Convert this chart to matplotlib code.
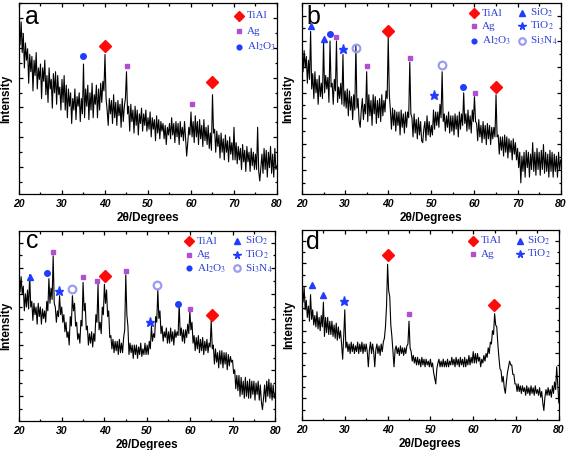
import numpy as np
import matplotlib
matplotlib.use("Agg")
import matplotlib.pyplot as plt

plt.rcParams["mathtext.fontset"] = "stix"

# 2theta grid (degrees), 0.25 deg step
two_theta = np.linspace(20, 80, 241)

# intensities (arbitrary units, 0..100 = axis height), one row = 5 degrees
int_a = [87, 78, 90, 74, 84, 66, 79, 70, 76, 58, 73, 64, 72, 54, 70, 62, 74, 55, 66, 60,
         68, 50, 66, 59, 70, 52, 62, 48, 66, 55, 60, 45, 63, 53, 64, 47, 62, 52, 56, 44,
         60, 48, 62, 44, 57, 40, 55, 46, 53, 37, 50, 44, 55, 39, 51, 46, 53, 38, 50, 42,
         68, 40, 55, 46, 57, 39, 53, 44, 58, 40, 52, 47, 57, 40, 55, 44, 58, 48, 59, 54,
         73, 50, 44, 36, 50, 42, 49, 37, 52, 40, 48, 36, 49, 41, 47, 35, 50, 38, 46, 50,
         64, 42, 46, 33, 47, 38, 44, 32, 46, 36, 44, 31, 42, 37, 45, 33, 42, 36, 44, 33,
         40, 34, 43, 30, 40, 34, 39, 28, 41, 32, 39, 29, 38, 33, 37, 29, 36, 26, 35, 31,
         37, 29, 40, 31, 37, 27, 38, 30, 37, 26, 38, 30, 35, 28, 38, 29, 20, 27, 35, 31,
         43, 30, 38, 27, 41, 30, 38, 26, 39, 29, 36, 25, 39, 28, 35, 26, 36, 24, 32, 23,
         52, 32, 34, 22, 33, 25, 31, 19, 32, 22, 29, 18, 31, 22, 28, 17, 30, 21, 27, 18,
         35, 18, 27, 16, 25, 18, 24, 13, 26, 17, 23, 12, 25, 17, 22, 12, 24, 15, 22, 13,
         21, 13, 35, 12, 7, 14, 21, 11, 24, 13, 23, 9, 22, 14, 25, 11, 21, 9, 24, 13,
         15]

int_b = [79, 64, 75, 66, 72, 58, 70, 60, 85, 55, 63, 50, 64, 53, 60, 47, 62, 51, 58, 50,
         80, 53, 62, 55, 61, 48, 80, 56, 58, 47, 60, 54, 80, 48, 56, 50, 58, 47, 73, 46,
         54, 45, 55, 41, 54, 44, 51, 39, 52, 44, 78, 45, 50, 38, 35, 44, 50, 39, 47, 42,
         64, 38, 52, 41, 49, 36, 52, 42, 51, 37, 49, 40, 50, 38, 52, 41, 49, 43, 54, 50,
         82, 52, 44, 34, 45, 36, 44, 33, 43, 36, 43, 31, 44, 35, 42, 32, 43, 35, 43, 40,
         69, 42, 40, 30, 42, 32, 39, 29, 40, 31, 38, 28, 27, 34, 38, 28, 41, 31, 38, 30,
         36, 31, 44, 34, 43, 36, 43, 35, 47, 40, 64, 38, 42, 33, 41, 35, 43, 32, 41, 33,
         41, 31, 42, 34, 41, 30, 43, 34, 42, 36, 53, 37, 42, 33, 44, 34, 41, 32, 44, 38,
         51, 38, 37, 28, 39, 30, 36, 27, 38, 29, 36, 26, 37, 29, 36, 26, 35, 29, 35, 30,
         52, 30, 31, 21, 30, 23, 30, 20, 31, 22, 30, 19, 29, 22, 28, 18, 29, 21, 27, 18,
         24, 14, 22, 6, 20, 12, 22, 9, 23, 14, 22, 9, 21, 13, 27, 12, 22, 10, 24, 13,
         22, 10, 23, 13, 26, 11, 22, 12, 21, 9, 23, 12, 22, 9, 21, 12, 20, 9, 22, 13,
         18]

int_c = [78, 68, 76, 67, 71, 58, 67, 60, 69, 59, 77, 60, 63, 53, 62, 56, 60, 51, 62, 55,
         60, 51, 59, 54, 58, 52, 63, 58, 75, 62, 70, 64, 87, 62, 60, 52, 58, 55, 66, 56,
         60, 52, 56, 47, 52, 44, 47, 40, 55, 50, 66, 58, 62, 50, 52, 43, 46, 41, 53, 50,
         73, 58, 62, 48, 50, 40, 46, 41, 47, 39, 46, 42, 56, 52, 72, 48, 52, 46, 60, 56,
         72, 62, 69, 55, 58, 44, 45, 38, 43, 36, 42, 37, 42, 35, 43, 36, 41, 36, 44, 48,
         77, 56, 50, 35, 41, 36, 40, 33, 40, 35, 40, 33, 39, 35, 41, 34, 38, 35, 41, 35,
         40, 35, 42, 38, 50, 42, 46, 44, 55, 52, 69, 54, 58, 46, 50, 42, 47, 44, 49, 41,
         47, 41, 49, 42, 47, 40, 48, 44, 47, 45, 62, 45, 49, 42, 48, 41, 48, 44, 51, 46,
         58, 48, 52, 41, 45, 37, 44, 38, 45, 36, 43, 37, 44, 35, 42, 37, 43, 36, 41, 39,
         53, 38, 40, 30, 38, 31, 36, 28, 37, 30, 37, 28, 36, 30, 36, 27, 35, 29, 34, 31,
         32, 25, 27, 17, 24, 16, 24, 13, 23, 14, 21, 12, 23, 13, 21, 12, 22, 12, 21, 14,
         21, 11, 20, 14, 21, 11, 19, 10, 6, 12, 19, 10, 21, 13, 22, 12, 20, 11, 19, 12,
         15]

int_d = [69, 62, 70, 58, 63, 54, 60, 52, 66, 53, 58, 50, 55, 49, 57, 48, 54, 47, 55, 49,
         62, 44, 54, 46, 54, 45, 52, 45, 52, 44, 50, 43, 51, 42, 49, 43, 47, 40, 32, 44,
         58, 38, 41, 36, 40, 35, 41, 36, 40, 35, 39, 36, 41, 35, 40, 36, 41, 35, 40, 36,
         40, 36, 28, 37, 41, 35, 40, 36, 28, 37, 40, 35, 39, 34, 40, 36, 41, 43, 49, 60,
         82, 68, 65, 50, 44, 36, 28, 37, 39, 35, 38, 34, 39, 35, 38, 34, 38, 35, 39, 40,
         52, 38, 36, 31, 34, 30, 33, 29, 33, 29, 32, 28, 33, 29, 32, 28, 32, 29, 31, 28,
         32, 28, 30, 25, 22, 19, 27, 30, 32, 28, 31, 28, 32, 28, 31, 28, 32, 28, 31, 29,
         33, 29, 32, 28, 33, 29, 32, 28, 33, 29, 32, 28, 33, 28, 32, 29, 34, 29, 33, 30,
         36, 30, 35, 30, 35, 31, 33, 28, 32, 30, 34, 31, 35, 33, 38, 35, 41, 40, 47, 45,
         56, 50, 49, 40, 33, 27, 26, 20, 23, 17, 14, 20, 25, 28, 31, 29, 29, 24, 24, 19,
         19, 15, 19, 15, 18, 14, 18, 15, 17, 13, 18, 14, 17, 13, 18, 14, 17, 13, 18, 14,
         16, 13, 17, 12, 15, 9, 5, 12, 16, 13, 17, 13, 16, 12, 18, 14, 20, 16, 28, 18,
         9]

# phase markers above the peaks
phase_a = ["Al2O3", "TiAl", "Ag", "Ag", "TiAl"]
pos_a = [35, 40, 45.2, 60.2, 65]
top_a = [72, 77.6, 67, 47, 58.8]

phase_b = ["SiO2", "SiO2", "Al2O3", "Ag", "TiO2", "Si3N4", "Ag", "TiAl",
           "Ag", "TiO2", "Si3N4", "Al2O3", "Ag", "TiAl"]
pos_b = [22.2, 25, 26.5, 28, 29.5, 32.6, 35, 40, 45, 50.5, 52.5, 57.4, 60.1, 64.9]
top_b = [88, 81, 83.5, 82.3, 75.7, 76.2, 67, 85.2, 71.3, 51.8, 67.5, 55.8, 53, 56.2]

phase_c = ["SiO2", "Al2O3", "Ag", "TiO2", "Si3N4", "Ag", "Ag", "TiAl",
           "Ag", "TiO2", "Si3N4", "Al2O3", "Ag", "TiAl"]
pos_c = [22.6, 26.5, 27.9, 29.4, 32.4, 34.9, 38.3, 40.2, 45, 50.7, 52.4, 57.3, 60.1, 65.1]
top_c = [76, 77.7, 88.8, 68.6, 69.3, 76, 73.5, 76.5, 79.1, 52.3, 71.6, 61.4, 59.1, 55.8]

phase_d = ["SiO2", "SiO2", "TiO2", "TiAl", "Ag", "TiAl"]
pos_d = [22.3, 24.9, 29.9, 40, 45, 64.9]
top_d = [71, 65.6, 62.5, 87, 55.8, 60.4]

BLUE = "#1f3cff"
styles = {
    "TiAl": dict(marker="D", color="#ff0a0a", ms=6.3),
    "Ag": dict(marker="s", color="#b04fd0", ms=3.2),
    "Al2O3": dict(marker="o", color=BLUE, ms=4),
    "SiO2": dict(marker="^", color=BLUE, ms=5),
    "TiO2": dict(marker="*", color=BLUE, ms=6.5),
    "Si3N4": dict(marker="o", mfc="none", mec="#9a9cf0", ms=5.5, mew=1.6, color="#9a9cf0"),
}
labels = {"TiAl": "TiAl", "Ag": "Ag", "Al2O3": "Al$_2$O$_3$",
          "SiO2": "SiO$_2$", "TiO2": "TiO$_2$", "Si3N4": "Si$_3$N$_4$"}


def style_axes(ax, yt0, ystep):
    ax.set_xlim(20, 80)
    ax.set_ylim(0, 100)
    ax.set_xticks(range(20, 81, 10))
    ax.set_xticks(range(25, 80, 10), minor=True)
    yt = np.arange(yt0, 100, ystep)
    ax.set_yticks(yt)
    ym = np.arange(yt0 - ystep / 2, 100, ystep)
    ax.set_yticks(ym[ym > 0], minor=True)
    ax.set_yticklabels([])
    ax.tick_params(which="both", direction="in", top=True, right=True, width=0.9)
    ax.tick_params(which="major", length=3.2, pad=3.5)
    ax.tick_params(which="minor", length=1.8)
    for lab in ax.get_xticklabels():
        lab.set_fontweight("bold")
        lab.set_fontstyle("italic")
        lab.set_fontsize(7.5)
        lab.set_family("Liberation Sans")
    for sp in ax.spines.values():
        sp.set_linewidth(0.9)
    ax.set_xlabel("2θ/Degrees", fontsize=8.5, fontweight="bold",
                  family="Liberation Sans", labelpad=2)
    ax.set_ylabel("Intensity", fontsize=8.5, fontweight="bold",
                  family="Liberation Sans")
    ax.yaxis.set_label_coords(-0.028, 0.5)


def draw_panel(ax, y, phases, pos, tops, letter, lx, ly):
    ax.plot(two_theta, y, color="black", lw=0.8)
    for ph, x0, y0 in zip(phases, pos, tops):
        st = dict(styles[ph])
        ax.plot([x0], [y0], ls="none", **st)
    ax.text(lx, ly, letter, transform=ax.transAxes, fontsize=18,
            family="Liberation Sans", ha="left", va="baseline")


def draw_key(ax, entries, col_x, row_y):
    for ph, c, r in entries:
        st = dict(styles[ph])
        st["ms"] = st["ms"] * 0.85
        ax.plot([col_x[c]], [row_y[r]], ls="none", transform=ax.transAxes,
                clip_on=False, **st)
        ax.text(col_x[c] + 0.03, row_y[r], labels[ph], transform=ax.transAxes,
                fontsize=8, family="Liberation Serif", color="#2b3fd6",
                ha="left", va="center")


fig = plt.figure(figsize=(5.67, 4.5), dpi=100)
ax_a = fig.add_axes([0.0335, 0.568, 0.455, 0.426])
ax_b = fig.add_axes([0.5326, 0.568, 0.4563, 0.426])
ax_c = fig.add_axes([0.0335, 0.0644, 0.452, 0.422])
ax_d = fig.add_axes([0.5326, 0.0667, 0.453, 0.422])

draw_panel(ax_a, int_a, phase_a, pos_a, top_a, "a", 0.023, 0.889)
draw_panel(ax_b, int_b, phase_b, pos_b, top_b, "b", 0.019, 0.889)
draw_panel(ax_c, int_c, phase_c, pos_c, top_c, "c", 0.027, 0.909)
draw_panel(ax_d, int_d, phase_d, pos_d, top_d, "d", 0.016, 0.898)

style_axes(ax_a, 14.4, 15.5)
style_axes(ax_b, 12.9, 13.4)
style_axes(ax_c, 13.2, 13.45)
style_axes(ax_d, 11.4, 11.85)

draw_key(ax_a, [("TiAl", 0, 0), ("Ag", 0, 1), ("Al2O3", 0, 2)],
         [0.853], [0.932, 0.852, 0.770])
draw_key(ax_b, [("TiAl", 0, 0), ("Ag", 0, 1), ("Al2O3", 0, 2),
                ("SiO2", 1, 0), ("TiO2", 1, 1), ("Si3N4", 1, 2)],
         [0.665, 0.850], [0.945, 0.878, 0.802])
draw_key(ax_c, [("TiAl", 0, 0), ("Ag", 0, 1), ("Al2O3", 0, 2),
                ("SiO2", 1, 0), ("TiO2", 1, 1), ("Si3N4", 1, 2)],
         [0.663, 0.851], [0.947, 0.875, 0.804])
draw_key(ax_d, [("TiAl", 0, 0), ("Ag", 0, 1), ("SiO2", 1, 0), ("TiO2", 1, 1)],
         [0.665, 0.848], [0.944, 0.874])

fig.savefig("out.png", dpi=100)
